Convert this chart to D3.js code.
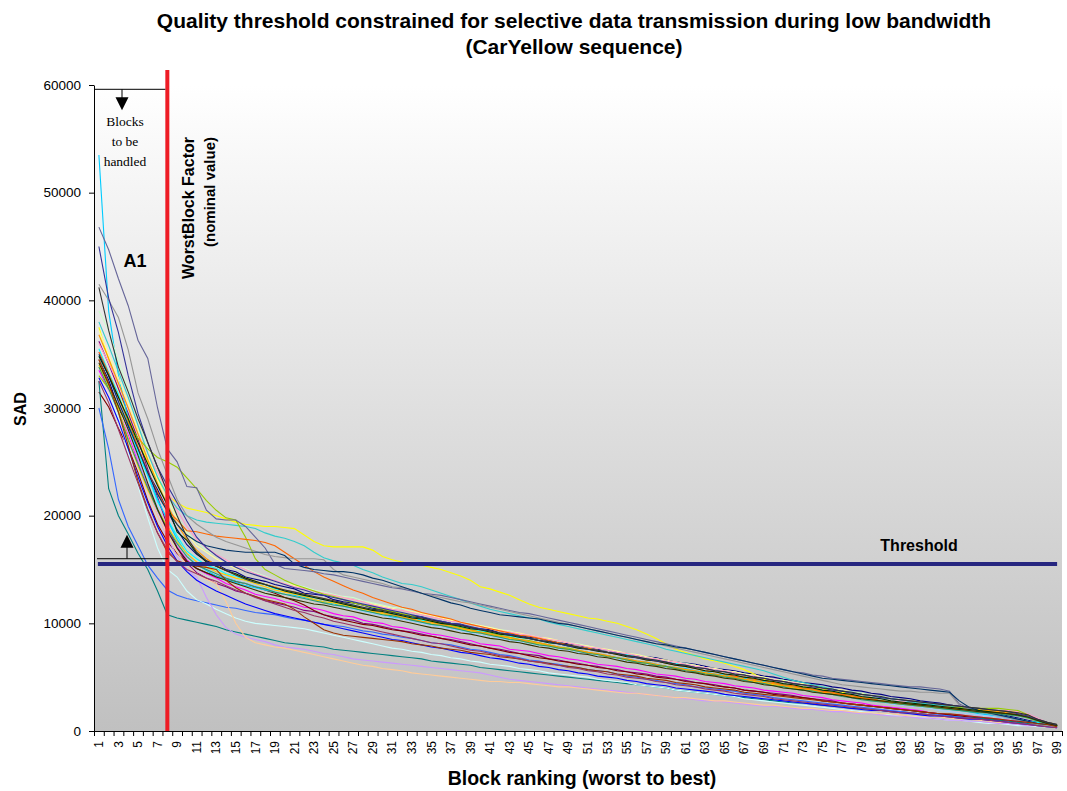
<!DOCTYPE html>
<html lang="en">
<head>
<meta charset="UTF-8">
<title>Quality threshold - CarYellow</title>
<script src="https://d3js.org/d3.v7.min.js"></script>
<style>
  body { margin: 0; background: #fff; }
  text { font-family: "Liberation Sans", Arial, sans-serif; }
</style>
</head>
<body>
<script>
// categories: block ranking, worst (1) to best (99)
const blocks = d3.range(1, 100);
const yTicks = [0, 10000, 20000, 30000, 40000, 50000, 60000];
const threshold = 15500;
const worstBlock = 8;
const bracketTop = 59600;
const bracketLow = 16000;

// SAD per block, in units of 100 (one array per frame of the sequence)
const sadUnit = 100;
const s01 = [345,326,300,283,263,240,224,205,187,173,164,158,155,150,148,143,141,139,136,134,132,128,127,126,122,120,119,117,114,113,111,108,107,106,103,102,100,99,96,95,94,91,90,89,87,86,84,82,81,80,77,76,75,73,72,70,69,68,66,64,63,62,60,58,57,56,54,53,51,50,48,47,45,44,43,41,40,38,37,35,34,32,31,30,28,27,26,24,23,21,19,17,16,14,12,10,8,7,5];
const s02 = [335,317,297,275,250,228,205,186,171,159,151,146,142,137,134,131,127,125,123,120,118,115,114,112,109,107,106,103,101,100,97,96,94,92,90,89,87,85,84,81,80,79,76,75,74,72,70,69,67,66,64,62,61,60,58,57,55,53,52,51,49,48,46,45,44,42,41,40,38,37,36,35,33,32,31,29,28,27,26,24,23,22,21,20,19,17,16,15,15,14,13,12,11,10,9,8,6,5,4];
const s03 = [375,345,318,292,270,250,234,219,212,207,205,203,200,197,194,192,191,190,190,189,188,182,176,172,171,171,171,171,168,162,159,157,155,154,152,150,147,144,140,134,132,129,126,122,118,115,113,111,109,107,105,104,102,100,97,94,90,86,81,76,73,70,67,65,63,60,57,53,48,45,43,42,41,40,39,38,36,35,34,33,31,30,29,28,27,25,24,23,22,21,20,19,18,17,15,12,9,7,5];
const s04 = [355,333,313,286,258,237,213,197,181,167,160,154,151,146,144,140,138,136,132,131,128,126,124,123,120,118,117,114,113,110,109,107,106,103,102,100,98,97,95,93,92,91,88,87,86,84,82,81,79,78,77,75,73,72,71,69,67,66,65,63,61,60,59,57,55,54,53,51,49,48,47,45,43,42,41,39,37,36,35,33,32,30,29,27,26,24,23,22,20,19,18,16,15,13,11,9,8,6,5];
const s05 = [362,341,318,295,271,243,217,191,170,156,147,142,137,134,130,128,125,121,119,117,115,112,111,108,106,104,103,100,99,97,95,93,92,90,88,86,85,83,81,79,77,76,74,72,71,70,67,66,64,63,61,60,58,57,55,54,53,51,50,48,47,45,44,43,41,40,38,37,36,35,34,33,31,30,29,28,26,25,24,23,22,21,20,19,18,17,16,15,14,13,12,11,10,8,7,6,5,4,3];
const s06 = [315,301,281,263,240,214,192,176,165,157,151,147,144,141,139,137,134,131,128,124,121,117,112,108,105,103,101,99,98,96,94,93,91,89,88,86,84,82,80,79,77,75,73,72,70,68,67,65,64,62,61,59,58,56,55,53,52,50,49,48,46,45,44,42,41,40,38,37,36,34,33,32,31,30,28,27,26,25,24,23,22,21,20,19,18,17,16,15,14,13,12,11,10,9,8,7,6,5,4];
const s07 = [325,225,200,183,165,150,130,108,105,103,101,99,97,94,92,90,88,86,84,82,81,80,79,78,76,75,74,73,72,71,70,69,68,67,65,64,63,62,61,59,58,57,56,55,54,53,52,51,50,49,48,47,46,45,44,43,42,41,40,38,37,36,35,34,33,32,31,30,29,28,27,26,26,25,24,23,22,21,21,20,19,18,18,17,16,15,14,14,13,12,12,11,10,9,8,7,6,5,4];
const s08 = [300,262,215,190,172,154,142,131,126,123,121,119,117,115,114,112,110,109,108,106,104,103,101,99,98,97,95,93,92,90,89,87,86,84,82,81,80,78,76,75,73,71,70,68,66,65,63,62,60,59,57,56,55,53,51,50,48,47,45,44,43,41,40,39,38,37,35,34,33,31,30,29,28,27,26,25,24,23,22,21,20,19,18,17,16,15,15,14,13,12,11,10,9,8,7,6,5,4,3];
const s09 = [535,390,330,290,262,238,215,196,178,164,155,149,144,141,138,135,133,131,129,127,126,124,122,120,118,116,114,112,110,108,106,104,103,101,99,98,96,94,92,91,89,87,86,84,82,81,79,78,76,74,73,71,70,68,67,65,64,62,60,59,58,56,55,53,52,50,49,47,46,44,43,41,40,38,37,35,34,32,31,30,28,27,26,24,23,22,21,20,19,18,16,15,13,12,10,9,7,6,5];
const s10 = [340,318,290,258,228,198,170,150,143,130,122,118,113,109,105,102,100,99,98,97,96,95,93,91,89,87,85,83,81,79,77,76,74,73,71,70,68,67,65,64,62,61,60,58,57,56,54,53,52,51,50,48,47,46,45,43,42,41,40,38,37,36,35,34,33,32,30,29,28,27,26,25,24,23,22,21,20,19,18,17,16,15,14,14,13,12,11,10,10,9,8,7,7,6,5,5,4,4,3];
const s11 = [390,372,344,317,291,263,239,217,199,185,175,168,163,159,154,151,147,144,140,138,136,134,131,129,127,125,124,121,119,117,115,114,111,109,107,106,103,101,100,98,96,94,93,90,89,87,85,84,82,81,79,77,75,74,72,71,69,67,65,64,63,61,59,58,56,55,53,51,50,48,46,45,43,42,40,39,37,36,34,33,31,30,28,27,26,24,23,22,21,20,19,18,17,16,15,13,10,8,6];
const s12 = [372,350,328,305,280,256,233,214,197,183,172,166,160,155,151,148,145,142,139,137,135,133,130,128,126,124,122,120,118,116,114,112,111,109,107,105,103,101,99,98,96,94,92,91,89,87,86,84,82,80,79,77,76,74,72,71,69,67,66,64,62,61,59,58,56,55,53,52,50,48,47,45,44,42,41,39,38,36,35,33,32,30,29,28,26,25,24,23,22,21,20,19,18,17,16,14,11,8,6];
const s13 = [348,330,305,278,254,230,208,190,175,163,156,151,147,144,140,137,135,132,130,127,125,123,121,119,117,115,113,111,109,107,105,104,102,100,98,96,95,93,91,89,88,86,84,83,81,80,78,76,75,73,72,70,69,67,65,64,62,61,59,58,56,55,53,52,50,49,47,46,44,43,41,40,38,37,35,34,32,31,29,28,27,25,24,23,22,21,19,18,17,16,15,14,13,12,11,9,7,5,4];
const s14 = [360,342,322,300,276,258,240,224,205,190,178,170,164,159,154,150,146,143,140,137,134,132,130,128,126,124,122,120,117,115,113,112,110,108,106,104,102,101,99,97,95,93,92,90,89,87,85,84,82,80,78,77,75,73,72,70,68,67,65,64,62,60,59,57,56,54,52,51,49,48,46,45,43,42,40,39,37,36,34,33,31,30,28,27,26,25,24,23,22,21,20,20,19,19,18,16,12,8,6];
const s15 = [352,330,305,280,252,225,200,180,162,150,143,124,108,96,90,87,85,83,80,78,77,76,74,72,71,69,67,66,65,64,63,62,61,60,59,58,57,56,55,54,52,50,48,47,46,45,44,43,42,41,40,39,38,37,36,35,34,33,32,31,30,29,28,28,27,26,25,24,23,23,22,21,20,20,19,18,18,17,16,16,15,14,14,13,12,12,11,10,10,9,9,8,7,7,6,5,5,4,3];
const s16 = [345,322,298,272,246,222,200,182,166,154,146,141,137,120,100,87,82,80,78,77,75,73,71,69,67,65,63,61,60,58,57,56,54,53,52,51,50,49,48,47,46,46,45,45,44,43,42,41,41,40,39,38,37,36,35,35,34,33,32,31,31,30,29,28,28,27,26,25,24,24,23,22,21,21,20,19,19,18,17,17,16,16,15,14,14,13,13,12,11,11,10,9,8,8,7,6,5,4,3];
const s17 = [328,310,288,262,236,212,190,172,158,148,140,135,130,126,122,118,115,112,109,107,105,103,101,99,97,95,93,91,89,87,85,84,82,80,78,77,75,73,72,70,68,67,65,63,62,60,59,57,56,54,53,51,50,49,47,46,44,43,42,40,39,38,37,36,34,33,32,31,30,29,28,27,26,25,24,23,22,21,20,19,19,18,17,16,15,14,14,13,12,11,11,10,9,8,7,6,5,4,3];
const s18 = [380,358,334,310,284,258,236,219,207,200,196,194,193,192,191,190,188,184,181,179,176,172,166,161,158,156,154,150,147,143,140,137,136,134,131,128,125,122,119,116,113,111,109,107,105,104,101,99,97,95,93,91,89,87,85,83,81,79,76,74,72,70,68,66,64,62,60,58,56,53,50,47,45,43,41,39,37,36,34,33,31,30,29,27,26,25,24,23,22,21,20,19,18,17,16,14,11,8,6];
const s19 = [330,318,300,286,272,262,254,250,245,235,225,214,205,198,196,180,160,150,145,140,136,133,130,127,125,122,119,117,115,113,111,109,107,104,102,100,98,96,94,92,91,89,87,85,84,82,80,78,77,75,73,71,70,68,66,64,63,61,60,58,57,55,53,52,51,49,48,46,45,43,42,40,39,38,36,35,34,32,31,29,28,27,26,25,24,23,22,22,22,22,21,21,21,20,19,15,10,7,5];
const s20 = [340,320,298,272,246,224,206,190,176,165,157,152,148,145,142,140,137,134,131,129,127,125,122,120,119,117,115,113,111,109,107,106,104,102,100,98,97,95,93,91,89,88,86,84,82,81,79,77,76,74,73,71,69,68,66,65,63,61,60,58,57,55,54,52,51,49,48,46,45,43,42,40,39,38,36,35,33,32,31,29,28,27,26,25,24,23,22,22,21,20,20,19,19,18,17,14,10,7,5];
const s21 = [368,346,323,300,276,252,230,210,192,178,168,160,154,149,145,142,139,136,134,131,129,127,125,123,121,118,116,114,112,110,108,106,104,102,101,99,97,95,94,92,90,88,87,85,83,82,80,78,76,75,73,72,70,68,67,65,64,62,60,59,57,56,54,53,51,50,48,47,45,44,42,41,39,38,36,35,33,32,30,29,28,26,25,24,23,22,21,21,20,20,19,19,18,17,16,14,11,8,6];
const s22 = [352,332,310,288,264,240,222,205,196,186,185,183,181,180,179,178,177,175,172,166,160,154,148,143,139,135,131,128,124,121,118,115,113,110,108,106,104,101,99,97,95,93,91,89,88,86,84,82,80,78,77,75,73,71,70,68,66,65,63,61,60,58,56,55,53,51,50,48,47,45,43,42,40,39,37,36,34,33,31,30,28,27,26,25,24,23,22,21,20,19,18,18,17,16,15,13,10,7,5];
const s23 = [468,447,420,395,363,346,300,262,250,227,226,205,197,196,196,190,180,170,155,151,150,149,148,146,145,143,141,139,137,135,133,132,130,128,127,126,124,122,120,118,116,114,112,110,109,107,105,103,101,99,97,95,93,91,89,87,85,83,81,79,77,75,73,71,69,67,65,63,61,59,57,55,54,52,51,49,48,47,46,45,44,43,42,41,41,40,39,37,25,21,19,17,15,13,11,9,7,6,5];
const s24 = [415,400,384,354,314,290,262,238,215,200,192,186,180,176,173,170,167,164,162,161,160,160,160,159,150,145,143,141,139,137,134,133,131,128,126,124,122,120,119,117,115,113,111,109,107,105,103,101,99,97,95,93,91,89,87,85,83,81,79,77,75,73,71,69,67,65,63,61,59,57,55,53,51,49,47,45,43,42,41,40,39,38,37,37,36,36,35,35,24,20,18,16,14,12,10,8,6,5,4];
const s25 = [350,330,306,284,262,240,220,204,192,182,176,172,170,168,167,166,166,166,166,163,155,152,150,149,148,148,147,145,142,140,137,134,131,128,125,122,119,117,114,112,110,108,107,106,105,104,102,100,99,97,95,93,91,89,87,85,83,81,80,78,77,75,73,71,69,67,65,63,61,59,57,55,53,51,49,48,47,46,45,44,43,42,41,40,39,38,37,36,28,22,19,17,15,13,11,9,7,6,5];
const s26 = [338,318,296,270,248,226,205,188,174,162,154,150,146,142,139,137,134,132,129,127,125,123,121,119,117,116,114,112,110,108,107,105,103,101,99,98,96,94,92,91,89,87,85,84,82,80,79,77,76,74,72,71,69,68,66,64,63,61,60,58,56,55,53,52,50,49,47,45,44,42,41,39,38,37,35,34,32,31,29,28,27,26,25,24,23,22,21,20,19,18,17,17,16,15,14,12,9,7,5];
const s27 = [348,330,310,290,268,248,228,210,185,177,165,157,153,149,146,142,139,136,133,130,128,126,124,122,120,118,116,114,112,111,109,107,105,104,102,100,99,97,95,94,92,90,89,87,86,84,82,81,79,77,76,74,73,71,69,68,66,65,63,61,60,58,56,55,53,52,50,49,47,46,44,43,41,40,38,37,35,34,32,31,30,28,27,26,25,24,23,22,21,20,19,18,17,16,15,13,10,7,5];
const s28 = [342,322,302,280,256,230,206,186,170,158,151,147,143,140,137,134,131,128,126,124,122,120,118,117,115,113,111,109,107,105,104,102,100,98,96,95,93,91,90,88,86,85,83,82,80,78,77,75,74,72,71,69,68,66,64,63,61,60,58,57,55,54,52,51,49,48,46,45,43,42,40,39,38,36,35,34,33,31,30,29,28,27,26,25,24,23,22,21,20,19,18,17,17,16,15,13,10,7,5];
const s29 = [345,323,296,265,232,206,184,166,158,155,153,152,150,140,133,128,125,122,120,118,113,106,100,94,91,89,88,87,86,85,84,83,81,80,79,77,76,75,73,72,71,69,68,67,65,64,63,61,60,59,57,56,55,53,52,51,49,48,47,45,44,43,41,40,39,38,36,35,34,33,32,31,30,29,28,27,26,25,24,23,22,21,20,19,18,17,16,16,15,14,13,12,11,10,9,8,7,6,4];
const s30 = [325,305,280,255,230,205,184,168,157,150,146,142,139,135,131,128,124,121,118,115,112,110,107,105,102,100,98,96,94,92,90,88,86,84,82,81,79,77,75,74,72,70,69,67,65,64,62,61,59,58,56,55,53,52,50,49,48,46,45,43,42,41,39,38,37,35,34,33,32,30,29,28,27,26,25,24,23,22,21,20,19,18,17,17,16,15,14,13,12,12,11,10,9,8,7,6,5,4,3];
const s31 = [450,402,370,330,295,268,245,228,212,195,180,170,163,157,152,148,145,142,139,136,133,131,128,126,124,122,120,118,116,114,112,110,108,106,104,102,100,99,97,95,93,91,90,88,86,84,83,81,79,78,76,75,73,72,70,68,67,65,64,62,61,59,58,56,55,53,52,50,49,47,46,44,43,41,40,38,37,35,34,33,31,30,29,28,27,26,25,24,23,22,21,20,19,18,16,14,11,8,6];
const s32 = [412,372,338,315,290,268,245,222,200,180,166,158,153,149,145,141,138,136,133,131,129,127,125,123,121,119,117,115,113,112,110,108,106,105,103,101,99,98,96,94,93,91,89,88,86,84,83,81,80,78,76,75,73,72,70,69,67,66,64,62,61,59,58,56,55,53,52,50,49,47,46,44,43,42,40,39,37,36,34,33,32,30,29,28,27,26,25,24,23,22,21,20,19,18,17,15,11,8,6];

const seriesData = [s01, s02, s03, s04, s05, s06, s07, s08, s09, s10, s11, s12, s13, s14, s15, s16,
                    s17, s18, s19, s20, s21, s22, s23, s24, s25, s26, s27, s28, s29, s30, s31, s32];
const seriesColors = ["#000080", "#ff00ff", "#ffff00", "#00ffff", "#800080", "#800000", "#008080", "#3366ff",
                      "#00ccff", "#ccffff", "#ccffcc", "#ffff99", "#99ccff", "#ff99cc", "#cc99ff", "#ffcc99",
                      "#0000ff", "#33cccc", "#99cc00", "#ffcc00", "#ff9900", "#ff6600", "#666699", "#969696",
                      "#003366", "#339966", "#003300", "#333300", "#993300", "#993366", "#333399", "#333333"];

const w = 1067;
const h = 791;
const plotLeft = 94;
const plotRight = 1062;
const plotTop = 85;
const plotBottom = 731;

const svg = d3.select("body")
              .append("svg")
              .attr("width", w)
              .attr("height", h);

const x = d3.scaleBand().domain(blocks).range([plotLeft, plotRight]);
const xEdge = d3.scaleLinear().domain([0.5, 99.5]).range([plotLeft, plotRight]);
const y = d3.scaleLinear().domain([0, 60000]).range([plotBottom, plotTop]);
const xc = d => x(d) + x.bandwidth() / 2;

// plot area background, white fading to grey
const grad = svg.append("defs").append("linearGradient")
                .attr("id", "bg").attr("x1", 0).attr("y1", 0).attr("x2", 0).attr("y2", 1);
grad.append("stop").attr("offset", "0%").attr("stop-color", "#ffffff");
grad.append("stop").attr("offset", "100%").attr("stop-color", "#c0c0c0");

svg.append("rect")
   .attr("x", plotLeft).attr("y", plotTop)
   .attr("width", plotRight - plotLeft).attr("height", plotBottom - plotTop)
   .attr("fill", "url(#bg)");

// one line per frame
const line = d3.line()
               .x((d, i) => xc(blocks[i]))
               .y(d => y(d * sadUnit));

svg.append("g")
   .selectAll("path")
   .data(seriesData)
   .enter()
   .append("path")
   .attr("d", line)
   .attr("fill", "none")
   .attr("stroke", (d, i) => seriesColors[i])
   .attr("stroke-width", 1.1);

// threshold
svg.append("line")
   .attr("x1", xc(1) - 1).attr("x2", xc(99))
   .attr("y1", y(threshold)).attr("y2", y(threshold))
   .attr("stroke", "#262680").attr("stroke-width", 4);

svg.append("text")
   .attr("x", 919).attr("y", y(threshold) - 13)
   .attr("text-anchor", "middle")
   .style("font-size", "16px").style("font-weight", "bold")
   .text("Threshold");

// axes
const yAxis = svg.append("g")
   .attr("transform", `translate(${plotLeft},0)`)
   .call(d3.axisLeft(y).tickValues(yTicks).tickSize(5).tickSizeOuter(0).tickFormat(d3.format("d")));

svg.append("g")
   .attr("transform", `translate(0,${plotBottom})`)
   .call(d3.axisBottom(xEdge).tickValues(d3.range(0.5, 100, 1)).tickSize(5).tickSizeOuter(0).tickFormat(""));

const xAxis = svg.append("g")
   .attr("transform", `translate(0,${plotBottom})`)
   .call(d3.axisBottom(x).tickValues(blocks.filter(b => b % 2 === 1)).tickSize(0));

xAxis.select(".domain").remove();
xAxis.selectAll("text")
     .attr("transform", "rotate(-90)")
     .attr("x", -10).attr("y", 0).attr("dy", "0.35em")
     .style("text-anchor", "end")
     .style("font-size", "12px");

yAxis.selectAll("text").style("font-size", "13.5px").attr("x", -13);
svg.selectAll(".domain").attr("stroke", "#000");
svg.selectAll(".tick line").attr("stroke", "#000");

// worst block factor marker
svg.append("line")
   .attr("x1", xc(worstBlock)).attr("x2", xc(worstBlock))
   .attr("y1", plotTop - 15).attr("y2", plotBottom)
   .attr("stroke", "#ee1c25").attr("stroke-width", 4);

svg.append("text")
   .attr("transform", `translate(${xc(worstBlock) + 27},137) rotate(-90)`)
   .attr("text-anchor", "end")
   .style("font-size", "16px").style("font-weight", "bold")
   .text("WorstBlock Factor");

svg.append("text")
   .attr("transform", `translate(${xc(worstBlock) + 48},137) rotate(-90)`)
   .attr("text-anchor", "end")
   .style("font-size", "15px").style("font-weight", "bold")
   .text("(nominal value)");

// bracket: blocks to be handled
const arrowHead = (cx, tipY, dir) => {
  const base = tipY - dir * 13;
  return `M${cx},${tipY}L${cx - 6.5},${base}L${cx + 6.5},${base}Z`;
};

svg.append("line")
   .attr("x1", plotLeft).attr("x2", xc(worstBlock) - 2)
   .attr("y1", y(bracketTop)).attr("y2", y(bracketTop))
   .attr("stroke", "#000").attr("stroke-width", 1);
svg.append("line")
   .attr("x1", 122).attr("x2", 122)
   .attr("y1", y(bracketTop)).attr("y2", y(bracketTop) + 10)
   .attr("stroke", "#000");
svg.append("path").attr("d", arrowHead(122, y(bracketTop) + 21, 1)).attr("fill", "#000");

svg.append("line")
   .attr("x1", plotLeft + 3).attr("x2", xc(worstBlock) + 1)
   .attr("y1", y(bracketLow)).attr("y2", y(bracketLow))
   .attr("stroke", "#000").attr("stroke-width", 1);
svg.append("line")
   .attr("x1", 127).attr("x2", 127)
   .attr("y1", y(bracketLow)).attr("y2", y(bracketLow) - 12)
   .attr("stroke", "#000");
svg.append("path").attr("d", arrowHead(127, y(bracketLow) - 24, -1)).attr("fill", "#000");

const handled = svg.append("text")
   .attr("text-anchor", "middle")
   .style("font-family", "'Liberation Serif', 'DejaVu Serif', serif")
   .style("font-size", "13.5px");
["Blocks", "to be", "handled"].forEach((t, i) => {
  handled.append("tspan").attr("x", 125).attr("y", 126 + i * 20).text(t);
});

svg.append("text")
   .attr("x", 135).attr("y", 267)
   .attr("text-anchor", "middle")
   .style("font-size", "18px").style("font-weight", "bold")
   .text("A1");

// titles
svg.append("text")
   .attr("x", 574).attr("y", 28)
   .attr("text-anchor", "middle")
   .style("font-size", "21px").style("font-weight", "bold")
   .text("Quality threshold constrained for selective data transmission during low bandwidth");

svg.append("text")
   .attr("x", 574).attr("y", 54)
   .attr("text-anchor", "middle")
   .style("font-size", "21px").style("font-weight", "bold")
   .text("(CarYellow sequence)");

svg.append("text")
   .attr("x", 582).attr("y", 785)
   .attr("text-anchor", "middle")
   .style("font-size", "19.5px").style("font-weight", "bold")
   .text("Block ranking (worst to best)");

svg.append("text")
   .attr("transform", `translate(26,409) rotate(-90)`)
   .attr("text-anchor", "middle")
   .style("font-size", "16px").style("font-weight", "bold")
   .text("SAD");
</script>
</body>
</html>
